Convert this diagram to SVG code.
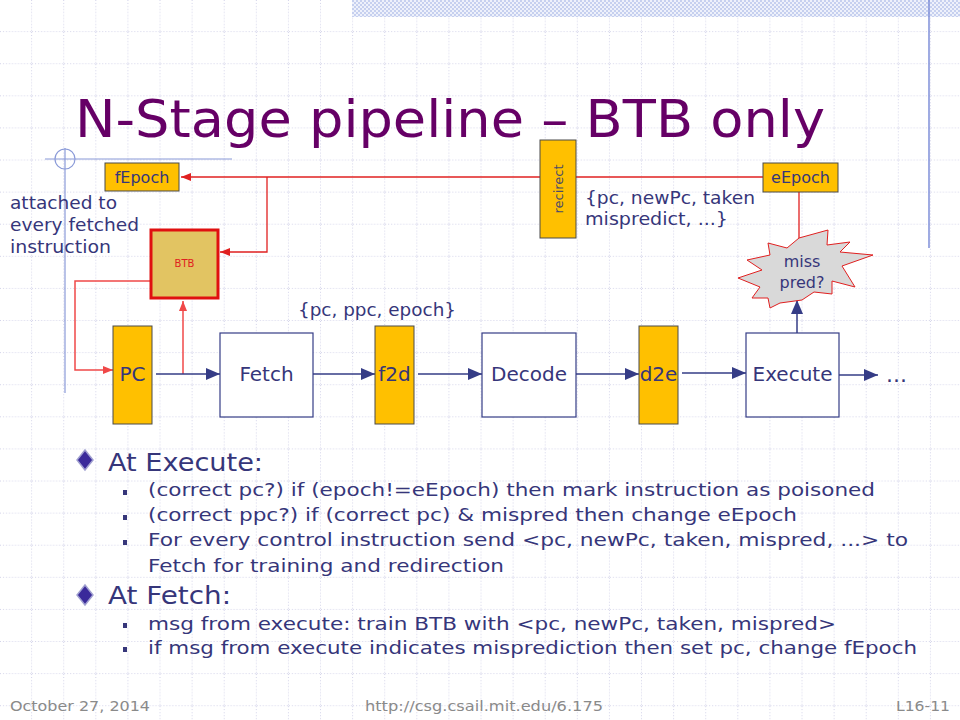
<svg xmlns="http://www.w3.org/2000/svg" width="960" height="720" viewBox="0 0 960 720">
<defs>
<pattern id="grid" width="32.1" height="32.1" patternUnits="userSpaceOnUse">
<path d="M32.1 0V32.1M0 32.1H32.1" stroke="#a8a8d4" stroke-width="1" stroke-dasharray="1 2" fill="none"/>
</pattern>
<pattern id="band" width="4" height="4" patternUnits="userSpaceOnUse">
<rect width="4" height="4" fill="#eef1fb"/>
<rect width="2" height="2" fill="#c6d0ef"/>
<rect x="2" y="2" width="2" height="2" fill="#c6d0ef"/>
</pattern>
<marker id="an" viewBox="0 0 14 12" refX="14" refY="6" markerWidth="14" markerHeight="12" markerUnits="userSpaceOnUse" orient="auto">
<path d="M0 0L14 6L0 12z" fill="#353c86"/>
</marker>
<marker id="ar" viewBox="0 0 10 8" refX="10" refY="4" markerWidth="10" markerHeight="8" markerUnits="userSpaceOnUse" orient="auto">
<path d="M0 0L10 4L0 8z" fill="#e02020"/>
</marker>
<marker id="ap" viewBox="0 0 10 8" refX="10" refY="4" markerWidth="10" markerHeight="8" markerUnits="userSpaceOnUse" orient="auto">
<path d="M0 0L10 4L0 8z" fill="#f04848"/>
</marker>
</defs>
<style>
text{font-family:"DejaVu Sans","Liberation Sans",sans-serif;fill:#36367a}
.lbl{font-size:20px;text-anchor:middle}
.reg{fill:#ffc000;stroke:#4a4a4a;stroke-width:1}
.stage{fill:#ffffff;stroke:#353c86;stroke-width:1.2}
.nav{stroke:#353c86;stroke-width:1.5;fill:none}
.red{stroke:#e02020;stroke-width:1.3;fill:none}
.pink{stroke:#f04848;stroke-width:1.5;fill:none}
.note{font-size:17px}
.sub{font-size:18px}
.head{font-size:24px}
.foot{font-size:14px;fill:#8a8a8a}
</style>
<rect width="960" height="720" fill="#ffffff"/>
<rect width="960" height="720" fill="url(#grid)"/>
<rect x="352" y="0" width="608" height="17" fill="url(#band)"/>
<line x1="929" y1="0" x2="929" y2="248" stroke="#7f8fd8" stroke-width="1.5"/>
<line x1="45" y1="159" x2="232" y2="159" stroke="#8a9ad8" stroke-width="1.2"/>
<line x1="65" y1="148" x2="65" y2="393" stroke="#8a9ad8" stroke-width="1.2"/>
<circle cx="65" cy="159" r="10" fill="none" stroke="#8a9ad8" stroke-width="1.2"/>
<text x="75" y="137" font-size="52" textLength="750" lengthAdjust="spacingAndGlyphs" style="fill:#660066">N-Stage pipeline – BTB only</text>

<g id="connectors">
<line class="red" x1="545" y1="177" x2="181" y2="177" marker-end="url(#ar)"/>
<polyline class="red" points="267,177 267,252 220,252" marker-end="url(#ar)"/>
<line class="red" x1="576" y1="177" x2="763" y2="177"/>
<line class="red" x1="799" y1="192" x2="799" y2="238"/>
<polyline class="pink" points="150,281 75,281 75,370 113,370" marker-end="url(#ap)"/>
<line class="pink" x1="183" y1="374" x2="183" y2="301" marker-end="url(#ap)"/>
<line class="nav" x1="156" y1="374" x2="220" y2="374" marker-end="url(#an)"/>
<line class="nav" x1="313" y1="374" x2="375" y2="374" marker-end="url(#an)"/>
<line class="nav" x1="418" y1="374" x2="482" y2="374" marker-end="url(#an)"/>
<line class="nav" x1="576" y1="374" x2="639" y2="374" marker-end="url(#an)"/>
<line class="nav" x1="682" y1="373" x2="746" y2="373" marker-end="url(#an)"/>
<line class="nav" x1="839" y1="375" x2="878" y2="375" marker-end="url(#an)"/>
<line class="nav" x1="797" y1="333" x2="797" y2="300" marker-end="url(#an)"/>
</g>

<g id="fEpoch"><rect class="reg" x="105" y="163" width="74" height="28"/><text x="142" y="183" font-size="16" text-anchor="middle">fEpoch</text></g>
<g id="eEpoch"><rect class="reg" x="763" y="163" width="75" height="29"/><text x="800.5" y="183" font-size="16" text-anchor="middle">eEpoch</text></g>
<g id="redirect"><rect class="reg" x="540" y="140" width="36" height="98"/><text transform="translate(563,189) rotate(-90)" font-size="13" text-anchor="middle" style="fill:#4a4a6a">recirect</text></g>
<g id="BTB"><rect x="151" y="230" width="67" height="68" fill="#e2c462" stroke="#e01010" stroke-width="3"/><text x="184.5" y="267" font-size="10" text-anchor="middle" style="fill:#e02020">BTB</text></g>
<g id="PC"><rect class="reg" x="113" y="326" width="39" height="98"/><text class="lbl" x="132.5" y="381">PC</text></g>
<g id="Fetch"><rect class="stage" x="220" y="333" width="93" height="84"/><text class="lbl" x="266.5" y="381">Fetch</text></g>
<g id="f2d"><rect class="reg" x="375" y="326" width="39" height="98"/><text class="lbl" x="394.5" y="381">f2d</text></g>
<g id="Decode"><rect class="stage" x="482" y="333" width="94" height="84"/><text class="lbl" x="529" y="381">Decode</text></g>
<g id="d2e"><rect class="reg" x="639" y="326" width="39" height="98"/><text class="lbl" x="658.5" y="381">d2e</text></g>
<g id="Execute"><rect class="stage" x="746" y="333" width="93" height="84"/><text class="lbl" x="792.5" y="381">Execute</text></g>
<g id="more"><text x="886" y="382" font-size="22">...</text></g>
<g id="misspred">
<path d="M799 238L828 230L827 245L850 242L840 252L873 255L842 266L855 287L832 281L832 294L814 292L802 300L780 303L770 308L768 298L752 298L760 287L738 278L762 270L747 260L770 255L768 243L787 248Z" fill="#d9d9d9" stroke="#e02020" stroke-width="1"/>
<text x="802" y="267" font-size="16" text-anchor="middle">miss</text>
<text x="802" y="288" font-size="16" text-anchor="middle">pred?</text>
</g>

<text class="note" x="298" y="316" textLength="158" lengthAdjust="spacingAndGlyphs">{pc, ppc, epoch}</text>
<text class="note" x="585" y="204" textLength="170" lengthAdjust="spacingAndGlyphs">{pc, newPc, taken</text>
<text class="note" x="585" y="225" textLength="143" lengthAdjust="spacingAndGlyphs">mispredict, ...}</text>
<text class="note" x="10" y="209" textLength="107" lengthAdjust="spacingAndGlyphs">attached to</text>
<text class="note" x="10" y="231" textLength="129" lengthAdjust="spacingAndGlyphs">every fetched</text>
<text class="note" x="10" y="253" textLength="101" lengthAdjust="spacingAndGlyphs">instruction</text>

<polygon points="85,450 93,460 85,470 77,460" fill="#3a2a9a" stroke="#a0a0d0" stroke-width="1.5"/>
<text class="head" x="108" y="471" textLength="155" lengthAdjust="spacingAndGlyphs">At Execute:</text>
<rect x="123" y="490" width="4" height="5" fill="#36367a"/>
<text class="sub" x="148" y="496" textLength="727" lengthAdjust="spacingAndGlyphs">(correct pc?) if (epoch!=eEpoch) then mark instruction as poisoned</text>
<rect x="123" y="515" width="4" height="5" fill="#36367a"/>
<text class="sub" x="148" y="521" textLength="649" lengthAdjust="spacingAndGlyphs">(correct ppc?) if (correct pc) &amp; mispred then change eEpoch</text>
<rect x="123" y="540" width="4" height="5" fill="#36367a"/>
<text class="sub" x="148" y="546" textLength="760" lengthAdjust="spacingAndGlyphs">For every control instruction send &lt;pc, newPc, taken, mispred, ...&gt; to</text>
<text class="sub" x="148" y="572" textLength="356" lengthAdjust="spacingAndGlyphs">Fetch for training and redirection</text>
<polygon points="85,585 93,595 85,605 77,595" fill="#3a2a9a" stroke="#a0a0d0" stroke-width="1.5"/>
<text class="head" x="108" y="604" textLength="123" lengthAdjust="spacingAndGlyphs">At Fetch:</text>
<rect x="123" y="623" width="4" height="5" fill="#36367a"/>
<text class="sub" x="148" y="630" textLength="688" lengthAdjust="spacingAndGlyphs">msg from execute: train BTB with &lt;pc, newPc, taken, mispred&gt;</text>
<rect x="123" y="647" width="4" height="5" fill="#36367a"/>
<text class="sub" x="148" y="654" textLength="769" lengthAdjust="spacingAndGlyphs">if msg from execute indicates misprediction then set pc, change fEpoch</text>

<text class="foot" x="10" y="711" textLength="140" lengthAdjust="spacingAndGlyphs">October 27, 2014</text>
<text class="foot" x="365" y="711" textLength="238" lengthAdjust="spacingAndGlyphs">http://csg.csail.mit.edu/6.175</text>
<text class="foot" x="896" y="711" textLength="54" lengthAdjust="spacingAndGlyphs">L16-11</text>
</svg>
